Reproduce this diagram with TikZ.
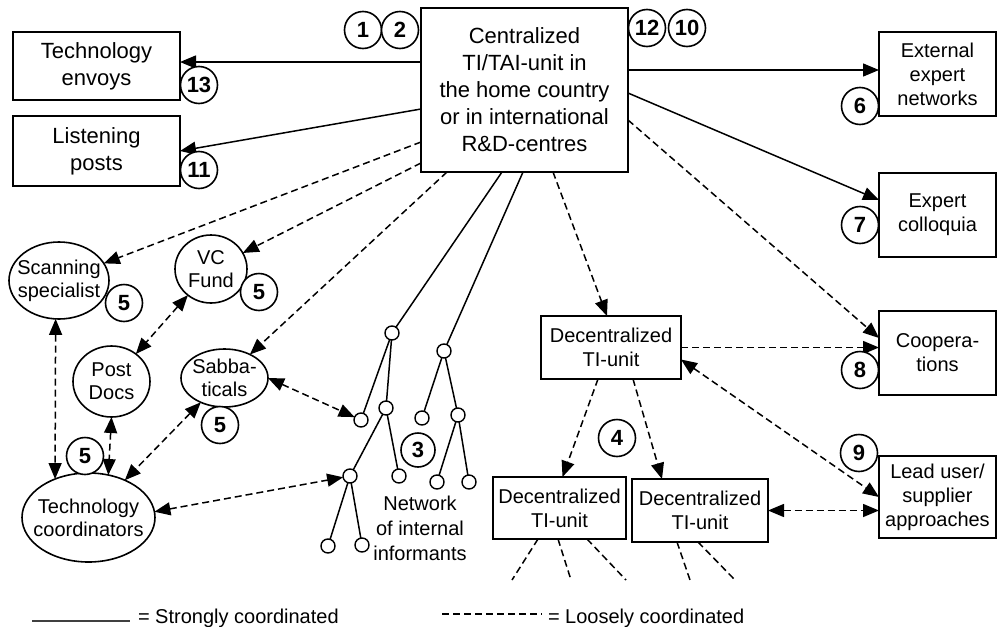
\documentclass[tikz,border=0pt]{standalone}
\usepackage{fontspec}
\setmainfont{Liberation Sans}
\usetikzlibrary{arrows.meta,shapes.geometric}
\begin{document}
\begin{tikzpicture}[x=1pt,y=-1pt,
  every node/.style={inner sep=0pt, outer sep=0pt},
  >={Triangle[length=16pt,width=13pt]},
  box/.style={draw, line width=1.6pt, align=center, font=\fontsize{20}{24}\selectfont},
  bigbox/.style={box, font=\fontsize{22}{27}\selectfont},
  oval/.style={draw, ellipse, line width=1.6pt},
  ovaltext/.style={align=center, font=\fontsize{20}{23}\selectfont},
  num/.style={draw, circle, fill=white, line width=1.6pt, minimum size=37pt,
              font=\fontsize{22}{22}\selectfont\bfseries},
  twig/.style={draw, circle, fill=white, line width=1.4pt, minimum size=14pt},
  strong/.style={line width=1.5pt},
  loose/.style={line width=1.5pt, dash pattern=on 7pt off 4pt},
  legtext/.style={anchor=base west, font=\fontsize{20}{24}\selectfont}]

\useasboundingbox (0,0) rectangle (997,627);

% ---------- central unit and the boxes around it ----------
\node[bigbox, minimum width=207pt, minimum height=164pt] (cen) at (524.5,90)
  {Centralized\\TI/TAI-unit in\\the home country\\or in international\\R\&D-centres};
\node[bigbox, minimum width=167pt, minimum height=68pt] (envoy) at (96.5,66) {Technology\\envoys};
\node[bigbox, minimum width=167pt, minimum height=70pt] (listen) at (96.5,151) {Listening\\posts};

\node[box, minimum width=117pt, minimum height=84pt] (ext)  at (937.5,74)  {External\\expert\\networks};
\node[box, minimum width=117pt, minimum height=84pt] (coll) at (937.5,215) {Expert\\colloquia};
\node[box, minimum width=117pt, minimum height=84pt] (coop) at (937.5,353) {Coopera-\\tions};
\node[box, minimum width=117pt, minimum height=82pt] (lead) at (937.5,497) {Lead user/\\supplier\\approaches};

\node[box, minimum width=140pt, minimum height=63pt] (dec)  at (611,347.5) {Decentralized\\TI-unit};
\node[box, minimum width=133pt, minimum height=62pt] (decL) at (559.5,508) {Decentralized\\TI-unit};
\node[box, line width=2.3pt, minimum width=136pt, minimum height=63pt] (decR) at (700,510.5) {Decentralized\\TI-unit};

% ---------- ovals on the left ----------
\node[oval, minimum width=100pt, minimum height=77pt] (scan) at (59,280.5) {};
\node[ovaltext] (scanT) at (scan) {Scanning\\specialist};
\node[oval, minimum width=72pt, minimum height=68pt] (vc) at (211,269) {};
\node[ovaltext] (vcT) at (vc) {VC\\Fund};
\node[oval, minimum width=77pt, minimum height=71pt] (pd) at (111.5,381.5) {};
\node[ovaltext] (pdT) at (pd) {Post\\Docs};
\node[oval, minimum width=87pt, minimum height=58pt] (sabb) at (224.5,378) {};
\node[ovaltext] (sabbT) at (sabb) {Sabba-\\ticals};
\node[oval, minimum width=133pt, minimum height=89pt] (tc) at (88.5,517.5) {};
\node[ovaltext] (tcT) at (tc) {Technology\\coordinators};

% ---------- network of internal informants ----------
\node[twig] (A) at (392,333) {};
\node[twig] (B) at (444,351) {};
\node[twig] (C) at (361,420) {};
\node[twig] (D) at (386,408) {};
\node[twig] (E) at (350,476) {};
\node[twig] (F) at (399,476) {};
\node[twig] (G) at (328,546) {};
\node[twig] (H) at (362,545) {};
\node[twig] (I) at (422,418) {};
\node[twig] (J) at (458,415) {};
\node[twig] (K) at (437,482) {};
\node[twig] (L) at (469,482) {};
\node[align=center, font=\fontsize{20}{25}\selectfont] (netT) at (420,528)
  {Network\\of internal\\informants};

\draw[strong] (A) -- (C);  \draw[strong] (A) -- (D);
\draw[strong] (D) -- (E);  \draw[strong] (D) -- (F);
\draw[strong] (E) -- (G);  \draw[strong] (E) -- (H);
\draw[strong] (B) -- (I);  \draw[strong] (B) -- (J);
\draw[strong] (J) -- (K);  \draw[strong] (J) -- (L);

% ---------- strongly coordinated links ----------
\draw[strong,->] ([yshift=28pt]cen.west) -- ([yshift=4pt]envoy.east);
\draw[strong,->] ([yshift=-19pt]cen.west) -- (listen.east);
\draw[strong,->] ([yshift=20pt]cen.east) -- ([yshift=4pt]ext.west);
\draw[strong,->] ([yshift=-3pt]cen.east) -- ([yshift=15pt]coll.west);
\draw[strong] ([xshift=-22.5pt]cen.south) -- (A);
\draw[strong] ([xshift=-1.5pt]cen.south) -- (B);

% ---------- loosely coordinated links ----------
\draw[loose,->] ([yshift=-52pt]cen.west) -- (scan);
\draw[loose,->] ([yshift=-73pt]cen.west) -- (vc);
\draw[loose,->] ([xshift=-77.5pt]cen.south) -- (sabb);
\draw[loose,->] ([xshift=28.5pt]cen.south) -- ([xshift=-4pt]dec.north);
\draw[loose,->] ([yshift=-30pt]cen.east) -- ([yshift=15pt]coop.west);
\draw[loose,->] (dec.east) -- (coop.west |- dec.east);
\draw[loose,<->] ([yshift=-12pt]dec.east) -- (lead.west);
\draw[loose,<->] (decR.east) -- (lead.west |- decR.east);
\draw[loose,->] ([xshift=-13pt]dec.south) -- ([xshift=3pt]decL.north);
\draw[loose,->] ([xshift=22pt]dec.south) -- ([xshift=-38pt]decR.north);

\draw[loose,<->] (scan.265) -- (tc.131);
\draw[loose,<->] (pd.south) -- (tc.65);
\draw[loose,<->] (vc) -- (pd);
\draw[loose,<->] (sabb) -- (tc);
\draw[loose,<->] (sabb.east) -- (C);
\draw[loose,<->] (tc.5) -- (E);

% loose ties running on below the lower units
\coordinate (s1) at (512,580);
\coordinate (s2) at (571,580);
\coordinate (s3) at (626,580);
\coordinate (s4) at (690,580);
\coordinate (s5) at (735,580);
\draw[loose] ([xshift=-21.5pt]decL.south) -- (s1);
\draw[loose] ([xshift=-1.5pt]decL.south) -- (s2);
\draw[loose] ([xshift=27.5pt]decL.south) -- (s3);
\draw[loose] ([xshift=-23pt]decR.south) -- (s4);
\draw[loose] ([xshift=-2pt]decR.south) -- (s5);

% ---------- numbered markers ----------
\node[num] (n1)  at (363,30)  {1};
\node[num] (n2)  at (400,30)  {2};
\node[num] (n12) at (647,28)  {12};
\node[num] (n10) at (687,28)  {10};
\node[num] (n13) at (199,85)  {13};
\node[num] (n11) at (199,170) {11};
\node[num] (n6)  at (860,106) {6};
\node[num] (n7)  at (860,225) {7};
\node[num] (n8)  at (860,370) {8};
\node[num] (n9)  at (859,453) {9};
\node[num] (n4)  at (617,438) {4};
\node[num, minimum size=34pt] (n3) at (418,450) {3};
\node[num] (n5a) at (124,303) {5};
\node[num] (n5b) at (259,292) {5};
\node[num] (n5c) at (220,425) {5};
\node[num] (n5d) at (85,456)  {5};

% ---------- legend ----------
\coordinate (ls1) at (32,621);
\coordinate (ls2) at (130,621);
\coordinate (ld1) at (442,614);
\coordinate (ld2) at (542,614);
\draw[line width=1.8pt, black!75] (ls1) -- (ls2);
\draw[loose] (ld1) -- (ld2);
\node[legtext] (leg1) at (138,623) {= Strongly coordinated};
\node[legtext] (leg2) at (548,623) {= Loosely coordinated};

\end{tikzpicture}
\end{document}
